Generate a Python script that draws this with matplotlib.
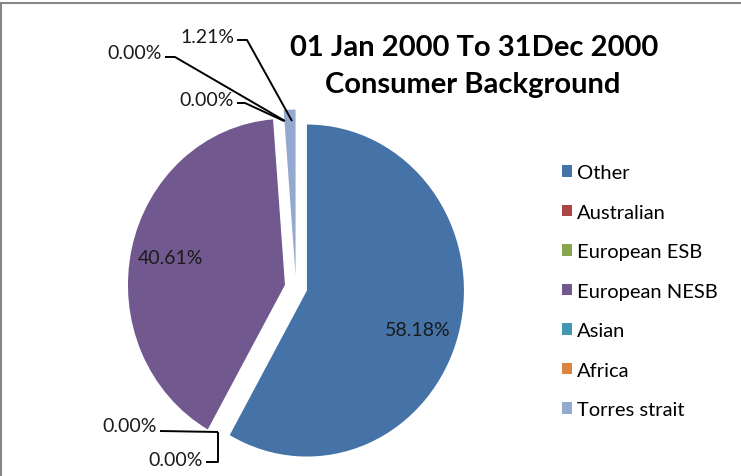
import matplotlib.pyplot as plt
from matplotlib.lines import Line2D

categories = ["Other", "Australian", "European ESB", "European NESB",
              "Asian", "Africa", "Torres strait"]
shares = [58.18, 0.00, 0.00, 40.61, 0.00, 0.00, 1.21]
colors = ["#4572A7", "#AA4643", "#89A54E", "#71588F",
          "#4198AF", "#DB843D", "#93A9CF"]
title_lines = ["01 Jan 2000 To 31Dec 2000", "Consumer Background"]

plt.rcParams['font.family'] = ['Lato', 'DejaVu Sans']

W, H = 741, 477
fig = plt.figure(figsize=(W / 100, H / 100), dpi=100)

# pie centre and radii in pixels (source chart is a little squashed sideways)
cx, cy, rx, ry = 296, 288.5, 157, 166

ax = fig.add_axes([0, 0, 1, 1])
wedges, _ = ax.pie(shares, colors=colors, startangle=90, counterclock=False,
                   explode=[0.072] * len(shares),
                   wedgeprops=dict(linewidth=0))
ax.set_aspect('auto')
ax.set_xlim(-cx / rx, (W - cx) / rx)
ax.set_ylim((cy - H) / ry, cy / ry)
ax.axis('off')


def px(x, y):
    # pixel position (from top-left) -> data coords
    return (x - cx) / rx, (cy - y) / ry


# data labels: text anchor (pixels), alignment, leader line points (pixels)
label_layout = {
    "Other":         ((418, 330), 'center', None),
    "European NESB": ((170, 259), 'center', None),
    "Australian":    ((157, 427), 'right', [(160, 432), (218, 433)]),
    "European ESB":  ((203, 460), 'right', [(206, 463), (218, 463), (218, 433)]),
    "Asian":         ((162, 53), 'right', [(165, 58), (175, 58), (285, 122)]),
    "Africa":        ((234, 100), 'right', [(237, 104), (245, 104), (284, 122)]),
    "Torres strait": ((234, 37), 'right', [(237, 41), (247, 41), (292, 122)]),
}

for cat, val in zip(categories, shares):
    (tx, ty), ha, leader = label_layout[cat]
    ax.text(*px(tx, ty), f"{val:.2f}%", ha=ha, va='center',
            fontsize=14, color='#1a1a1a')
    if leader:
        xs, ys = zip(*[px(x, y) for x, y in leader])
        ax.plot(xs, ys, color='black', lw=1.4, solid_capstyle='butt')

fig.text(474 / W, 1 - 56 / H, title_lines[0], ha='center', va='baseline',
         fontsize=21, fontweight='bold')
fig.text(473 / W, 1 - 93 / H, title_lines[1], ha='center', va='baseline',
         fontsize=21, fontweight='bold')

ax.legend(wedges, categories, loc='upper left',
          bbox_to_anchor=(562 / W, 1 - 165 / H), bbox_transform=fig.transFigure,
          frameon=False, borderpad=0, borderaxespad=0,
          handlelength=0.5, handleheight=0.5, handletextpad=0.25,
          labelspacing=1.12, fontsize=14.5)

# chart border (only top and left edges are in frame)
fig.add_artist(Line2D([0, 1], [1 - 3.5 / H] * 2, transform=fig.transFigure,
                      color='#878787', lw=1.5))
fig.add_artist(Line2D([1 / W] * 2, [0, 1 - 3.5 / H], transform=fig.transFigure,
                      color='#878787', lw=1.5))

fig.savefig("out.png", dpi=100)
